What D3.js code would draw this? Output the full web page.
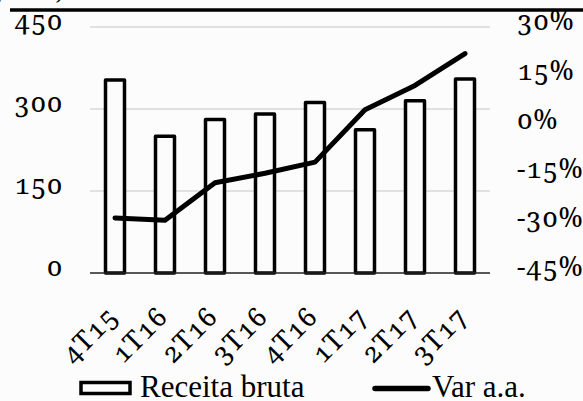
<!DOCTYPE html>
<html>
<head>
<meta charset="utf-8">
<script src="https://cdn.jsdelivr.net/npm/d3@7"></script>
<style>
  body { margin: 0; background: #fcfcfc; }
  #wrap { position: relative; width: 583px; height: 401px; overflow: hidden; }
  svg { display: block; position: absolute; left: 0; top: 0; }
  .lbl {
    position: absolute;
    font-family: 'Noto Serif', serif;
    font-variant-numeric: oldstyle-nums;
    line-height: 0;
    white-space: nowrap;
    letter-spacing: 0.6px;
    color: #000;
  }
  .legend-label { font-family: 'Liberation Serif', 'Times New Roman', serif; fill: #000; }
</style>
</head>
<body>
<div id="wrap"><svg id="chart" width="583" height="401"></svg></div>
<script>
// quarters and values
const quarters = ['4T15', '1T16', '2T16', '3T16', '4T16', '1T17', '2T17', '3T17'];
const receitaBruta = [353, 250, 281, 291, 312, 262, 315, 355];
const varAA = [-28.2, -28.9, -17.5, -14.6, -11.2, 4.8, 12.2, 21.9];
const leftTicks = [0, 150, 300, 450];
const rightTicks = [-45, -30, -15, 0, 15, 30];

const width = 583, height = 401;
const plotLeft = 90, plotRight = 490, plotTop = 27, plotBottom = 273;
const labelSize = 27;
const catSize = 27;
const baseShift = 0.39; // baseline sits ~0.39em below the top of a line-height:0 box

const wrap = d3.select('#wrap');
const svg = d3.select('#chart');

svg.append('rect')
    .attr('width', width)
    .attr('height', height)
    .attr('fill', '#fcfcfc');

const x = d3.scaleBand()
    .domain(quarters)
    .range([plotLeft, plotRight]);

const yLeft = d3.scaleLinear()
    .domain([0, 450])
    .range([plotBottom, plotTop]);

const yRight = d3.scaleLinear()
    .domain([-45, 30])
    .range([plotBottom, plotTop]);

// html label with its baseline at (bx, by)
function label(text, bx, by, size, anchor) {
  const d = wrap.append('div')
      .attr('class', 'lbl')
      .style('font-size', size + 'px')
      .style('top', (by - baseShift * size) + 'px')
      .text(text);
  if (anchor === 'end') d.style('right', (width - bx) + 'px');
  else d.style('left', bx + 'px');
  return d;
}

svg.append('line')
    .attr('x1', 10).attr('x2', width)
    .attr('y1', 10).attr('y2', 10)
    .attr('stroke', '#000')
    .attr('stroke-width', 3.5);

// gridlines
svg.append('g')
  .selectAll('line')
  .data(leftTicks.filter(d => d > 0))
  .enter().append('line')
    .attr('x1', plotLeft).attr('x2', plotRight)
    .attr('y1', d => yLeft(d)).attr('y2', d => yLeft(d))
    .attr('stroke', '#d9d9d9')
    .attr('stroke-width', 1.5);

// bars
const barW = x.bandwidth() * 0.38;
svg.append('g')
  .selectAll('rect')
  .data(receitaBruta)
  .enter().append('rect')
    .attr('x', (d, i) => x(quarters[i]) + x.bandwidth() / 2 - barW / 2)
    .attr('y', d => yLeft(d))
    .attr('width', barW)
    .attr('height', d => yLeft(0) - yLeft(d))
    .attr('fill', '#fcfcfc')
    .attr('stroke', '#000')
    .attr('stroke-width', 3.5)
    .attr('stroke-linejoin', 'round');

// baseline
svg.append('line')
    .attr('x1', plotLeft).attr('x2', plotRight)
    .attr('y1', yLeft(0)).attr('y2', yLeft(0))
    .attr('stroke', '#222')
    .attr('stroke-width', 1.5);

// Var a.a. line
const line = d3.line()
    .x((d, i) => x(quarters[i]) + x.bandwidth() / 2)
    .y(d => yRight(d));

svg.append('path')
    .datum(varAA)
    .attr('d', line)
    .attr('fill', 'none')
    .attr('stroke', '#000')
    .attr('stroke-width', 5)
    .attr('stroke-linecap', 'round')
    .attr('stroke-linejoin', 'round');

// cut-off unit title above the rule
label('(R$ mm)', 64, -0.5, 22, 'end');

// axis labels
leftTicks.forEach(d => label(d, 63, yLeft(d) + 4, labelSize, 'end'));
rightTicks.forEach(d => label(d + '%', 517, yRight(d) + 4, labelSize, 'start'));

// category labels, rotated about the end of their baseline
quarters.forEach(q => {
  const px = x(q) + x.bandwidth() / 2 + 5;
  const py = plotBottom + 46;
  wrap.append('div')
      .style('position', 'absolute')
      .style('left', px + 'px')
      .style('top', py + 'px')
      .style('width', '0px')
      .style('height', '0px')
      .style('transform', 'rotate(-45deg)')
      .style('transform-origin', '0 0')
    .append('div')
      .attr('class', 'lbl')
      .style('font-size', catSize + 'px')
      .style('right', '0px')
      .style('top', (-baseShift * catSize) + 'px')
      .text(q);
});

// legend
const legend = svg.append('g');
legend.append('rect')
    .attr('x', 81).attr('y', 382.5)
    .attr('width', 49).attr('height', 11)
    .attr('fill', '#fcfcfc')
    .attr('stroke', '#000')
    .attr('stroke-width', 3.5);
legend.append('text')
    .attr('class', 'legend-label')
    .attr('x', 140).attr('y', 396.7)
    .attr('font-size', 31)
    .text('Receita bruta');
legend.append('line')
    .attr('x1', 375).attr('x2', 428)
    .attr('y1', 388.5).attr('y2', 388.5)
    .attr('stroke', '#000')
    .attr('stroke-width', 5.5)
    .attr('stroke-linecap', 'round');
legend.append('text')
    .attr('class', 'legend-label')
    .attr('x', 432).attr('y', 396.7)
    .attr('font-size', 31)
    .text('Var a.a.');
</script>
</body>
</html>
